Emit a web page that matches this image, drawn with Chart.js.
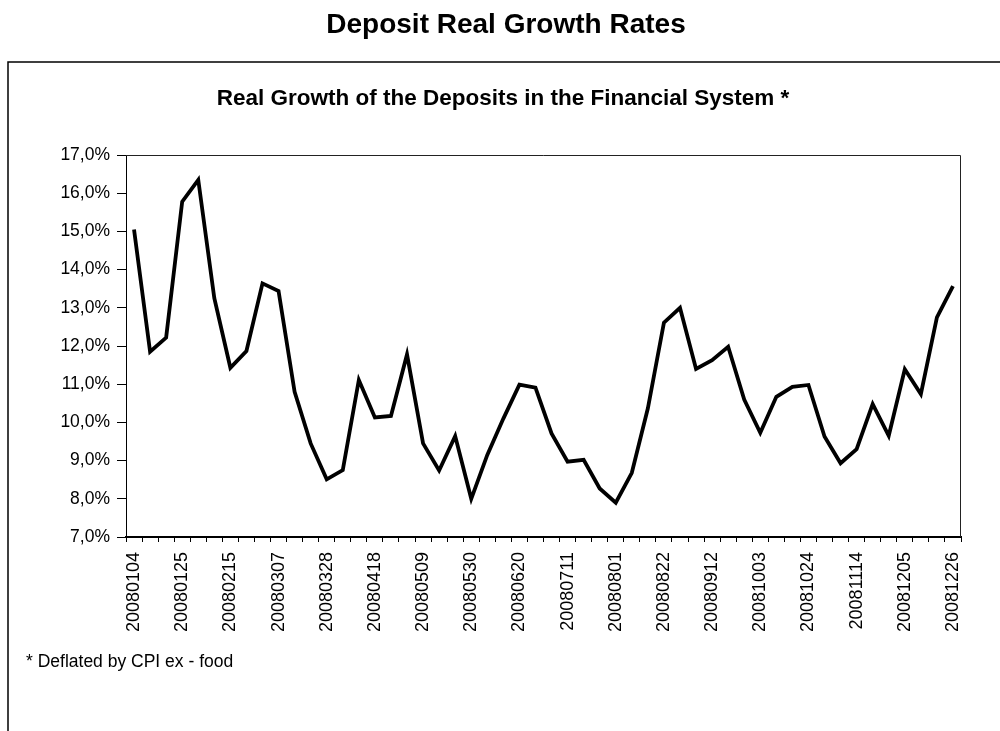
<!DOCTYPE html>
<html>
<head>
<meta charset="utf-8">
<script src="https://cdn.jsdelivr.net/npm/chart.js@4.4.1/dist/chart.umd.min.js"></script>
<style>
html,body{margin:0;padding:0;background:#fff;}
#wrap{width:1000px;height:731px;position:relative;}
</style>
</head>
<body>
<div id="wrap"><canvas id="c" width="1000" height="731"></canvas></div>
<script>
const mainTitle = "Deposit Real Growth Rates";
const chartTitle = "Real Growth of the Deposits in the Financial System *";
const footnote = "* Deflated by CPI ex - food";

const dates = [
  "20080104","20080111","20080118","20080125",
  "20080201","20080208","20080215","20080222","20080229",
  "20080307","20080314","20080321","20080328",
  "20080404","20080411","20080418","20080425",
  "20080502","20080509","20080516","20080523","20080530",
  "20080606","20080613","20080620","20080627",
  "20080704","20080711","20080718","20080725",
  "20080801","20080808","20080815","20080822","20080829",
  "20080905","20080912","20080919","20080926",
  "20081003","20081010","20081017","20081024","20081031",
  "20081107","20081114","20081121","20081128",
  "20081205","20081212","20081219","20081226"
];

const realGrowth = [
  15.05, 11.85, 12.22, 15.78, 16.35, 13.25, 11.43, 11.87, 13.64, 13.44,
  10.80, 9.45, 8.51, 8.75, 11.11, 10.13, 10.17, 11.78, 9.45, 8.74,
  9.64, 8.00, 9.15, 10.10, 10.99, 10.91, 9.71, 8.97, 9.02, 8.27,
  7.90, 8.68, 10.37, 12.61, 13.00, 11.40, 11.63, 11.98, 10.60, 9.73,
  10.67, 10.93, 10.98, 9.63, 8.93, 9.30, 10.48, 9.65, 11.39, 10.74,
  12.75, 13.57
];

const yMin = 7, yMax = 17, yStep = 1;
const FONT = "'Liberation Sans', Arial, sans-serif";

const decor = {
  id: 'decor',
  beforeDraw(chart) {
    const ctx = chart.ctx;
    ctx.save();
    ctx.fillStyle = '#fff';
    ctx.fillRect(0, 0, chart.width, chart.height);
    // outer box
    ctx.strokeStyle = '#000';
    ctx.lineWidth = 1.5;
    ctx.beginPath();
    ctx.moveTo(8, 740);
    ctx.lineTo(8, 62);
    ctx.lineTo(1010, 62);
    ctx.stroke();
    // titles
    ctx.fillStyle = '#000';
    ctx.textAlign = 'center';
    ctx.textBaseline = 'alphabetic';
    ctx.font = "bold 28px " + FONT;
    ctx.fillText(mainTitle, 506, 33);
    ctx.font = "bold 22.5px " + FONT;
    ctx.fillText(chartTitle, 503, 105);
    ctx.textAlign = 'left';
    ctx.font = "17.5px " + FONT;
    ctx.fillText(footnote, 26, 667);
    ctx.restore();
  },
  afterDraw(chart) {
    const ctx = chart.ctx;
    const a = chart.chartArea;
    ctx.save();
    ctx.strokeStyle = '#222';
    ctx.lineWidth = 1;
    ctx.beginPath();
    ctx.moveTo(a.left, a.top + 0.5);
    ctx.lineTo(a.right - 0.5, a.top + 0.5);
    ctx.lineTo(a.right - 0.5, a.bottom);
    ctx.stroke();
    ctx.restore();
  }
};

new Chart(document.getElementById('c'), {
  type: 'line',
  data: {
    labels: dates,
    datasets: [{
      data: realGrowth,
      borderColor: '#000',
      borderWidth: 3.8,
      pointRadius: 0,
      tension: 0,
      fill: false
    }]
  },
  options: {
    responsive: false,
    animation: false,
    layout: { padding: { left: 0, top: 155, right: 39, bottom: 0 } },
    plugins: { legend: { display: false }, tooltip: { enabled: false }, title: { display: false } },
    scales: {
      x: {
        type: 'category',
        offset: true,
        afterFit(s) { s.height = 194; },
        grid: { offset: true, drawOnChartArea: false, drawTicks: true, tickLength: 5, color: '#000', lineWidth: 1 },
        border: { display: true, color: '#000', width: 2 },
        ticks: {
          autoSkip: false,
          minRotation: 90,
          maxRotation: 90,
          padding: 10,
          color: '#000',
          font: { family: FONT, size: 18 },
          callback(v, i) { return i % 3 === 0 ? dates[i] : ''; }
        }
      },
      y: {
        min: yMin,
        max: yMax,
        afterFit(s) { s.width = 126; },
        grid: { drawOnChartArea: false, drawTicks: true, tickLength: 9, color: '#000', lineWidth: 1 },
        border: { display: true, color: '#000', width: 1 },
        ticks: {
          stepSize: yStep,
          padding: 7,
          color: '#000',
          font: { family: FONT, size: 17.5 },
          callback(v) { return v.toFixed(1).replace('.', ',') + '%'; }
        }
      }
    }
  },
  plugins: [decor]
});
</script>
</body>
</html>
